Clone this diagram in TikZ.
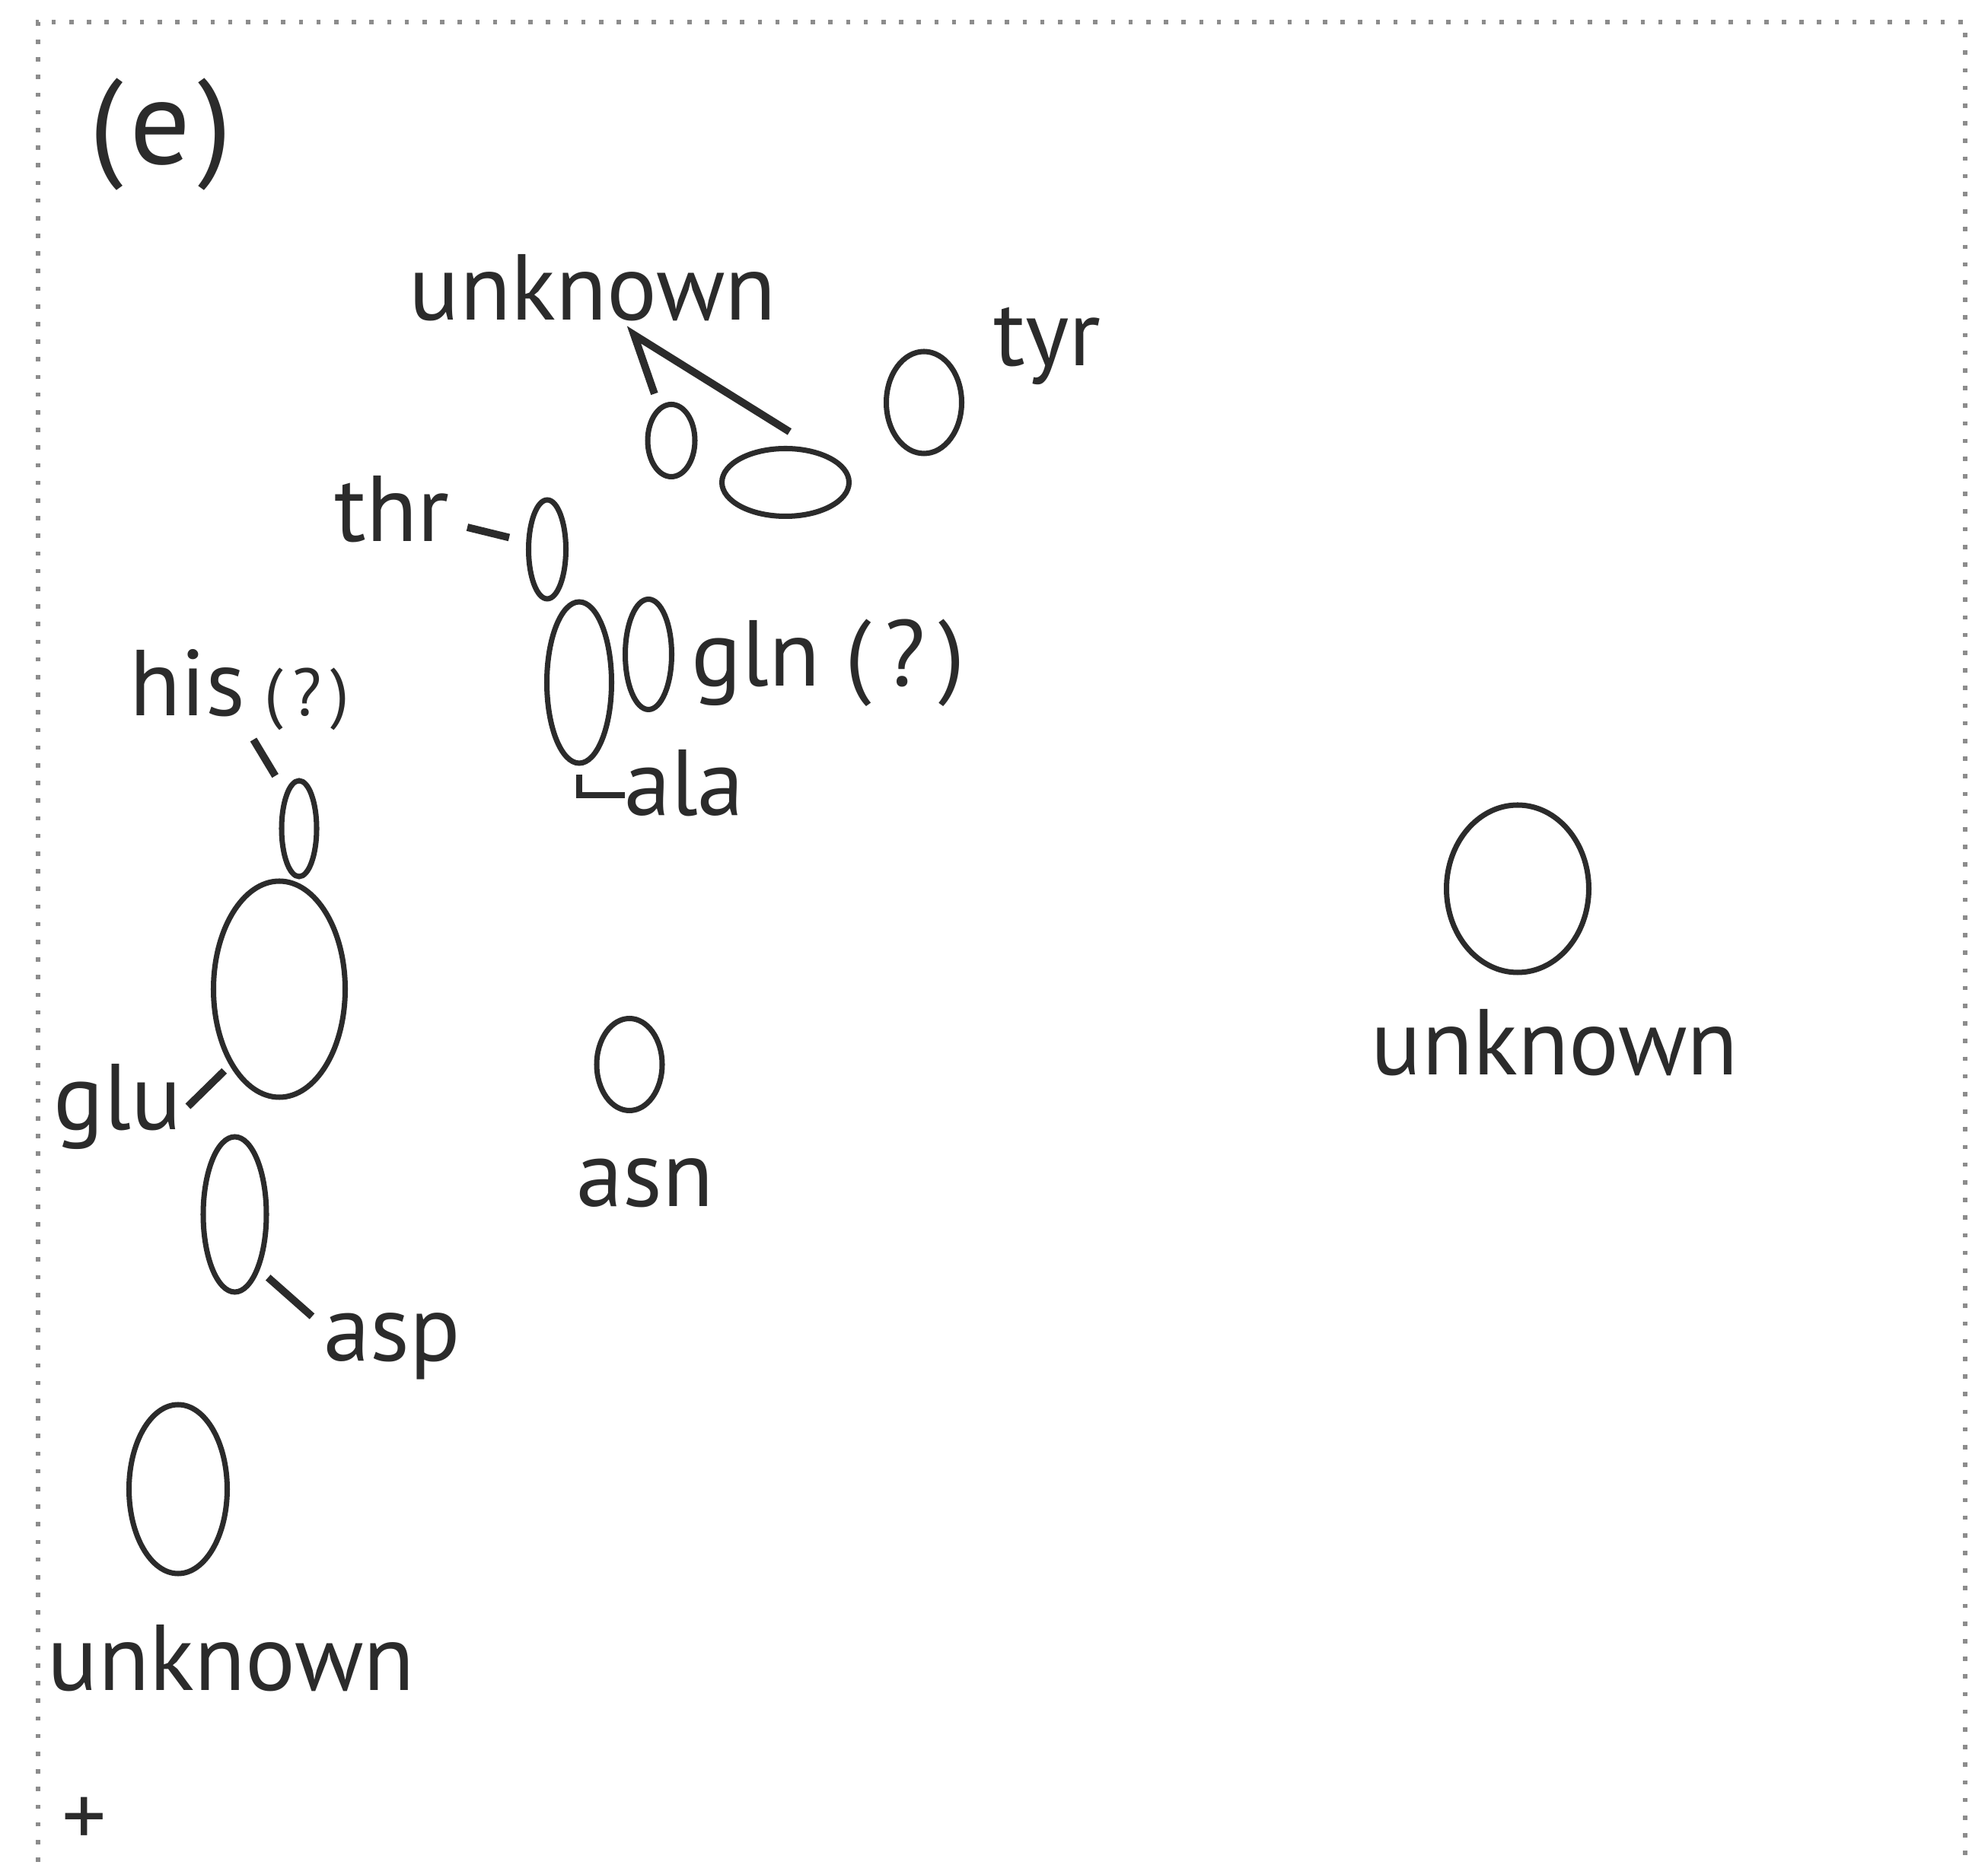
\documentclass[tikz,border=0pt]{standalone}
\usepackage{fontspec}
\setmainfont{PT Sans}
\usetikzlibrary{shapes.geometric}
\usetikzlibrary{calc}

\definecolor{ink}{HTML}{2B2B2B}
\newcommand{\qmark}{(\kern0.14em?\kern0.14em)}
\tikzset{
  blob/.style={ellipse, draw=ink, line width=2pt, inner sep=0pt},
  lbl/.style={anchor=base, inner sep=0pt, text=ink, font=\fontsize{35}{40}\selectfont},
  lead/.style={draw=ink, line width=2.8pt},
  frame/.style={draw=black!45, line width=1.5pt, dash pattern=on 1.6pt off 5pt}
}

\begin{document}
\begin{tikzpicture}
    % Fix the canvas to the panel size
    \useasboundingbox (0,0) rectangle (26.12,24.50);

    % Dotted panel frame (open at the bottom)
    \draw[frame] (0.50,-0.2) |- (25.82,24.21) -- (25.82,-0.2);

    % Panel letter
    \node[text=ink, inner sep=0pt, font=\fontsize{45}{52}\selectfont] (panel) at (2.11,22.73) {(\kern0.06em e\kern0.06em)};

    % Spots
    \node[blob, minimum width=0.62cm, minimum height=0.95cm] (uA) at (8.82,18.71) {};
    \node[blob, minimum width=1.67cm, minimum height=0.89cm] (uB) at (10.32,18.16) {};
    \node[blob, minimum width=0.99cm, minimum height=1.34cm] (tyrE) at (12.14,19.21) {};
    \node[blob, minimum width=0.49cm, minimum height=1.30cm] (thrE) at (7.19,17.28) {};
    \node[blob, minimum width=0.85cm, minimum height=2.12cm] (alaE) at (7.61,15.53) {};
    \node[blob, minimum width=0.61cm, minimum height=1.45cm] (glnE) at (8.52,15.90) {};
    \node[blob, minimum width=0.46cm, minimum height=1.26cm] (hisE) at (3.93,13.61) {};
    \node[blob, minimum width=1.73cm, minimum height=2.84cm] (gluE) at (3.67,11.50) {};
    \node[blob, minimum width=0.83cm, minimum height=2.04cm] (aspE) at (3.085,8.54) {};
    \node[blob, minimum width=0.86cm, minimum height=1.21cm] (asnE) at (8.27,10.51) {};
    \node[blob, minimum width=1.29cm, minimum height=2.22cm] (unkBE) at (2.34,4.93) {};
    \node[blob, minimum width=1.87cm, minimum height=2.20cm] (unkRE) at (19.94,12.82) {};

    % Labels
    \node[lbl] (unkT) at (7.79,20.29) {unknown};
    \node[lbl] (tyrL) at (13.76,19.69) {tyr};
    \node[lbl] (thrL) at (5.15,17.38) {thr};
    \node[lbl, anchor=base west] (glnL) at (9.08,15.48) {gln \qmark};
    \node[lbl] (alaL) at (8.99,13.78) {ala};
    \node[lbl, anchor=base west] (hisL) at (1.70,15.09) {his\kern0.2em{\fontsize{25}{30}\selectfont\qmark}};
    \node[lbl] (gluL) at (1.55,9.65) {glu};
    \node[lbl] (aspL) at (5.15,6.61) {asp};
    \node[lbl] (asnL) at (8.48,8.64) {asn};
    \node[lbl] (unkR) at (20.43,10.37) {unknown};
    \node[lbl] (unkB) at (3.04,2.285) {unknown};
    \node[text=ink, inner sep=0pt, font=\fontsize{33}{38}\selectfont] (plus) at (1.105,0.56) {+};

    % Leader lines
    \coordinate (uTip) at (8.33,20.10);
    \draw[lead, line join=miter] ($(uA.110)!5pt!(uTip)$) -- (uTip) -- ($(uB.40)!0.5cm!(uTip)$);
    \coordinate (thrT) at (6.14,17.57);
    \draw[lead, shorten >=0.23cm] (thrT) -- (thrE.160);
    \coordinate (hisT) at (3.33,14.78);
    \draw[lead, shorten >=0.25cm] (hisT) -- (hisE.111);
    \coordinate (gluT) at (2.47,9.96);
    \draw[lead, shorten >=0.1cm] (gluT) -- (gluE.237);
    \coordinate (aspT) at (4.10,7.20);
    \draw[lead, shorten <=0.15cm] (aspE.-66) -- (aspT);
    \coordinate (alaT) at (8.21,14.05);
    \draw[draw=ink, line width=2pt] ([yshift=-0.11cm]alaE.south) |- (alaT);
\end{tikzpicture}
\end{document}
